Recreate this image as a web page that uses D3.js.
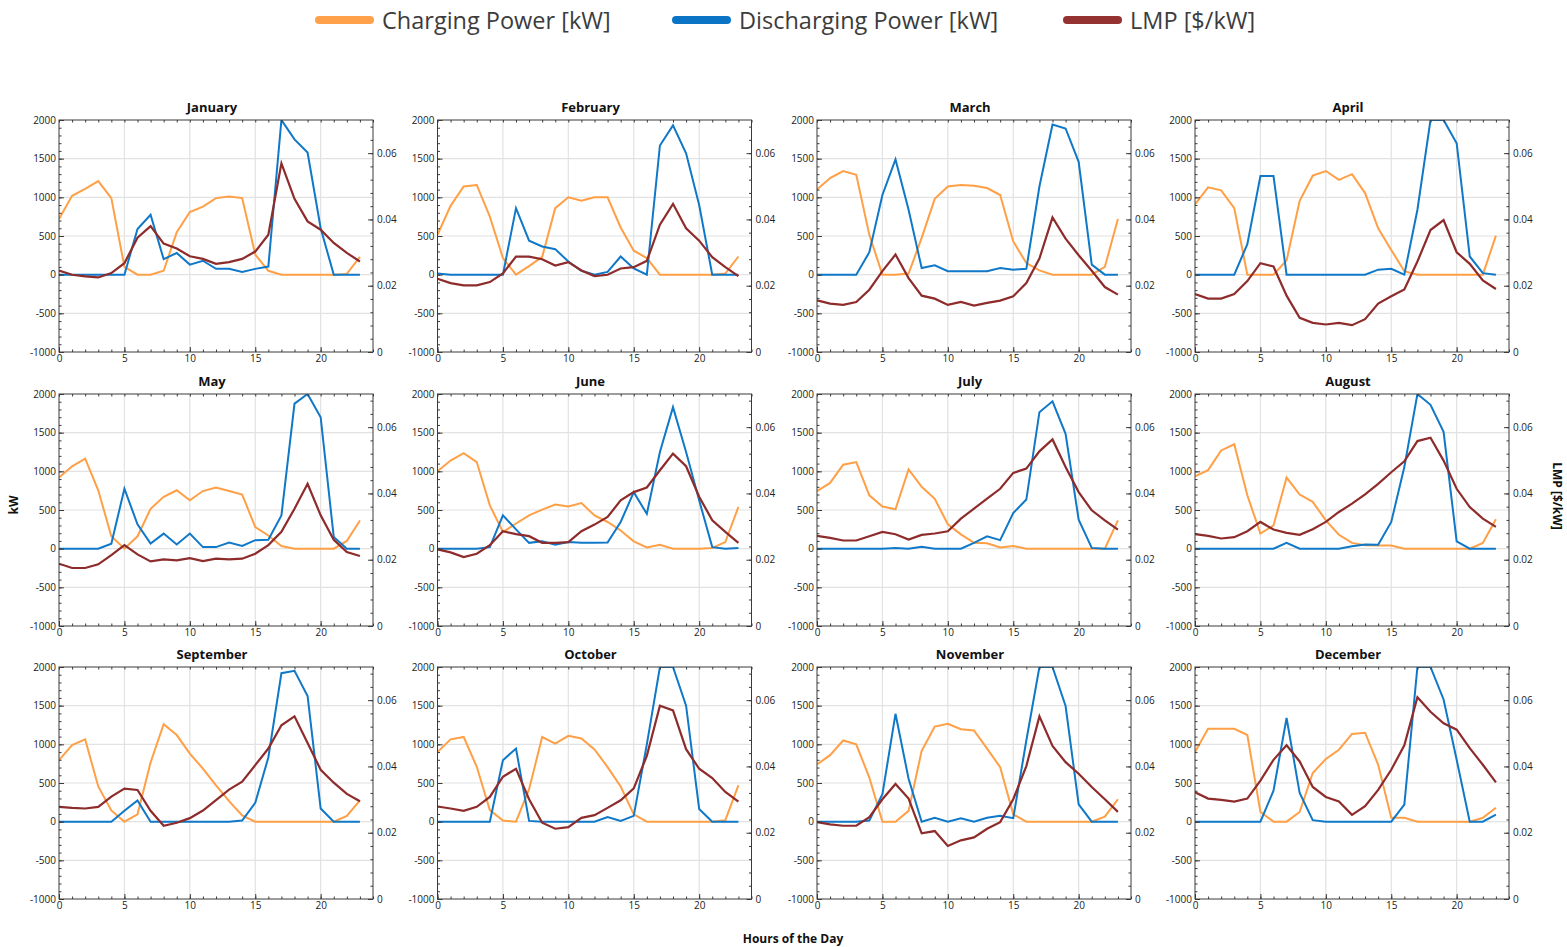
<!DOCTYPE html>
<html><head><meta charset="utf-8">
<script src="https://cdn.jsdelivr.net/npm/d3@7"></script>
<style>
body{margin:0;background:#fff}
svg{display:block}
text{font-family:"Open Sans","Noto Sans",sans-serif}
</style>
</head><body>
<svg id="chart" width="1567" height="947"></svg>
<script>
const months = ["January","February","March","April","May","June","July","August","September","October","November","December"];
const hours = [0,1,2,3,4,5,6,7,8,9,10,11,12,13,14,15,16,17,18,19,20,21,22,23];
const seriesNames = ["Charging Power [kW]","Discharging Power [kW]","LMP [$/kW]"];
const leftTicks = [-1000,-500,0,500,1000,1500,2000];
const rightTicks = [0,0.02,0.04,0.06];
const xTicks = [0,5,10,15,20];

const chargingPower = [
 [720,1020,1110,1210,990,100,0,0,50,550,810,880,990,1010,990,260,50,0,0,0,0,0,10,230],
 [515,890,1140,1160,750,215,0,110,230,860,1000,955,1000,1000,610,310,215,0,0,0,0,0,15,235],
 [1100,1250,1340,1290,515,0,0,15,475,980,1140,1160,1150,1120,1030,430,150,55,0,0,0,0,100,720],
 [910,1130,1090,860,0,0,0,185,955,1280,1340,1225,1300,1055,600,320,45,0,0,0,0,0,0,505],
 [920,1065,1165,755,160,0,160,515,670,755,625,745,790,745,700,280,170,35,0,0,0,0,100,365],
 [1000,1140,1235,1120,560,215,325,430,505,570,545,590,430,345,235,95,15,50,0,0,0,10,85,540],
 [745,850,1085,1120,690,545,510,1025,800,645,315,185,75,70,15,35,0,0,0,0,0,0,0,365],
 [935,1015,1270,1350,690,195,300,920,700,605,365,180,75,45,40,40,0,0,0,0,0,0,75,380],
 [795,990,1065,455,145,0,95,765,1260,1120,880,685,470,265,80,0,0,0,0,0,0,0,75,275],
 [900,1065,1095,710,150,15,0,420,1095,1010,1110,1075,935,705,455,95,0,0,0,0,0,0,20,470],
 [740,860,1050,1000,570,0,0,140,915,1230,1265,1195,1180,945,705,95,0,0,0,0,0,0,65,290],
 [900,1200,1200,1200,1120,125,0,0,125,630,810,930,1135,1150,735,50,50,0,0,0,0,0,50,180]
];
const dischargingPower = [
 [0,0,0,0,0,0,590,775,200,280,130,180,75,75,35,75,105,2000,1750,1580,600,0,0,0],
 [15,0,0,0,0,0,860,440,365,330,170,50,0,35,235,80,0,1670,1930,1570,900,0,0,0],
 [0,0,0,0,290,1030,1490,840,85,120,45,45,45,45,85,65,75,1140,1940,1890,1460,130,0,0],
 [0,0,0,0,395,1275,1275,0,0,0,0,0,0,0,65,75,0,840,2000,2000,1700,235,20,0],
 [0,0,0,0,65,775,315,65,195,55,195,20,20,80,35,110,115,430,1875,2000,1700,150,0,0],
 [0,0,0,0,20,430,250,75,95,50,85,75,75,80,345,730,450,1250,1830,1250,625,20,0,10],
 [0,0,0,0,0,0,10,0,25,0,0,0,75,160,110,460,635,1765,1905,1485,375,10,0,0],
 [0,0,0,0,0,0,0,75,0,0,0,0,30,55,50,345,1055,2000,1860,1510,95,0,0,0],
 [0,0,0,0,0,140,275,0,0,0,0,0,0,0,15,245,830,1920,1950,1625,170,0,0,0],
 [0,0,0,0,0,795,945,10,0,0,0,0,0,60,10,75,1000,2000,2000,1500,165,0,0,0],
 [0,0,0,0,15,355,1395,555,0,50,0,45,0,50,75,45,1050,2000,2000,1495,225,0,0,0],
 [0,0,0,0,0,0,400,1340,370,20,0,0,0,0,0,0,220,2000,2000,1580,800,0,0,90]
];
const lmp = [
 [0.0246,0.0233,0.0228,0.0225,0.0238,0.0268,0.0345,0.0380,0.0327,0.0312,0.0289,0.0281,0.0266,0.0271,0.0281,0.0303,0.0354,0.0569,0.0462,0.0394,0.0369,0.0329,0.0299,0.0273],
 [0.0221,0.0208,0.0201,0.0201,0.0211,0.0237,0.0288,0.0288,0.0280,0.0261,0.0271,0.0246,0.0229,0.0233,0.0252,0.0256,0.0275,0.0384,0.0447,0.0373,0.0336,0.0286,0.0256,0.0229],
 [0.0156,0.0146,0.0142,0.0151,0.0188,0.0244,0.0294,0.0223,0.0170,0.0161,0.0142,0.0151,0.0140,0.0148,0.0155,0.0168,0.0208,0.0282,0.0406,0.0342,0.0292,0.0245,0.0196,0.0173],
 [0.0175,0.0161,0.0161,0.0175,0.0214,0.0268,0.0258,0.0170,0.0103,0.0088,0.0083,0.0088,0.0081,0.0099,0.0146,0.0168,0.0189,0.0273,0.0368,0.0398,0.0301,0.0266,0.0216,0.0190],
 [0.0188,0.0175,0.0175,0.0186,0.0214,0.0244,0.0216,0.0195,0.0201,0.0198,0.0205,0.0196,0.0203,0.0201,0.0203,0.0218,0.0244,0.0284,0.0354,0.0429,0.0334,0.0260,0.0223,0.0211],
 [0.0231,0.0222,0.0208,0.0218,0.0244,0.0286,0.0277,0.0271,0.0251,0.0251,0.0253,0.0286,0.0306,0.0329,0.0379,0.0404,0.0418,0.0470,0.0520,0.0482,0.0390,0.0319,0.0284,0.0251],
 [0.0272,0.0266,0.0258,0.0258,0.0271,0.0284,0.0277,0.0261,0.0275,0.0279,0.0286,0.0324,0.0354,0.0384,0.0414,0.0462,0.0475,0.0527,0.0563,0.0480,0.0404,0.0349,0.0319,0.0291],
 [0.0277,0.0272,0.0264,0.0268,0.0286,0.0314,0.0291,0.0281,0.0275,0.0292,0.0314,0.0344,0.0369,0.0397,0.0429,0.0464,0.0497,0.0558,0.0568,0.0499,0.0414,0.0359,0.0324,0.0299],
 [0.0278,0.0275,0.0273,0.0278,0.0309,0.0333,0.0329,0.0266,0.0221,0.0230,0.0244,0.0267,0.0298,0.0330,0.0354,0.0404,0.0454,0.0524,0.0551,0.0471,0.0390,0.0351,0.0317,0.0295],
 [0.0279,0.0273,0.0266,0.0278,0.0308,0.0369,0.0393,0.0301,0.0230,0.0212,0.0217,0.0245,0.0253,0.0275,0.0298,0.0334,0.0432,0.0583,0.0569,0.0452,0.0393,0.0365,0.0323,0.0294],
 [0.0232,0.0225,0.0221,0.0221,0.0247,0.0301,0.0347,0.0303,0.0198,0.0205,0.0160,0.0177,0.0186,0.0212,0.0232,0.0301,0.0401,0.0551,0.0462,0.0413,0.0378,0.0338,0.0301,0.0263],
 [0.0322,0.0303,0.0299,0.0294,0.0303,0.0357,0.0420,0.0464,0.0415,0.0338,0.0308,0.0294,0.0254,0.0280,0.0329,0.0390,0.0464,0.0609,0.0565,0.0530,0.0511,0.0455,0.0405,0.0352]
];

const colors = ["#ff9f46","#0f78c8","#8e2b2b"];
const legendColors = ["#ffa04b","#0b74c4","#943232"];

const svg = d3.select("#chart");
const W = 314, H = 232;
const colX = [59, 437.5, 817, 1195];
const rowY = [120, 394, 667];

const x = d3.scaleLinear().domain([0,24]).range([0,W]);
const yL = d3.scaleLinear().domain([-1000,2000]).range([H,0]);
const yR = d3.scaleLinear().domain([0,0.07]).range([H,0]);

const minorL = d3.range(-1000, 2001, 100);
const minorR = d3.range(0, 0.0701, 0.004);
const minorX = d3.range(0, 25, 1);
const plain = d => String(d);

months.forEach((m, i) => {
  const g = svg.append("g").attr("transform", `translate(${colX[i%4]},${rowY[Math.floor(i/4)]})`);
  // grid
  g.selectAll(".gx").data(xTicks.filter(d=>d>0)).join("line")
    .attr("x1", d=>x(d)).attr("x2", d=>x(d)).attr("y1",0).attr("y2",H)
    .attr("stroke","#e2e2e2").attr("stroke-width",1.2);
  g.selectAll(".gy").data(leftTicks.filter(d=>d>-1000 && d<2000)).join("line")
    .attr("y1", d=>yL(d)).attr("y2", d=>yL(d)).attr("x1",0).attr("x2",W)
    .attr("stroke","#e2e2e2").attr("stroke-width",1.2);

  const cid = "clip"+i;
  g.append("clipPath").attr("id",cid).append("rect").attr("x",0).attr("y",0).attr("width",W).attr("height",H);
  const lines = g.append("g").attr("clip-path",`url(#${cid})`);
  const lineL = d3.line().x((d,j)=>x(hours[j])).y(d=>yL(d));
  const lineR = d3.line().x((d,j)=>x(hours[j])).y(d=>yR(d));
  lines.append("path").datum(chargingPower[i]).attr("d",lineL)
    .attr("fill","none").attr("stroke",colors[0]).attr("stroke-width",2);
  lines.append("path").datum(dischargingPower[i]).attr("d",lineL)
    .attr("fill","none").attr("stroke",colors[1]).attr("stroke-width",2);
  lines.append("path").datum(lmp[i]).attr("d",lineR)
    .attr("fill","none").attr("stroke",colors[2]).attr("stroke-width",2.2);

  // frame
  g.append("rect").attr("x",0).attr("y",0).attr("width",W).attr("height",H)
    .attr("fill","none").attr("stroke","#3a3a3a").attr("stroke-width",1);

  const styleAxis = sel => {
    sel.select(".domain").remove();
    sel.selectAll(".tick line").attr("stroke","#3a3a3a");
    sel.selectAll("text").attr("fill","#222").style("font-size","10px").style("font-family","'Open Sans',sans-serif");
  };
  // left axis
  g.append("g").call(d3.axisLeft(yL).tickValues(leftTicks).tickSizeInner(-5).tickSizeOuter(0).tickPadding(3).tickFormat(plain)).call(styleAxis);
  g.append("g").call(d3.axisLeft(yL).tickValues(minorL).tickSizeInner(-2.5).tickSizeOuter(0).tickFormat("")).call(styleAxis);
  // right axis
  g.append("g").attr("transform",`translate(${W},0)`)
    .call(d3.axisRight(yR).tickValues(rightTicks).tickSizeInner(-5).tickSizeOuter(0).tickPadding(4).tickFormat(d=>d===0?"0":d3.format(".2f")(d))).call(styleAxis);
  g.append("g").attr("transform",`translate(${W},0)`)
    .call(d3.axisRight(yR).tickValues(minorR).tickSizeInner(-2.5).tickSizeOuter(0).tickFormat("")).call(styleAxis);
  // bottom axis
  g.append("g").attr("transform",`translate(0,${H})`)
    .call(d3.axisBottom(x).tickValues(xTicks).tickSizeInner(-5).tickSizeOuter(0).tickPadding(3).tickFormat(plain)).call(styleAxis);
  g.append("g").attr("transform",`translate(0,${H})`)
    .call(d3.axisBottom(x).tickValues(minorX).tickSizeInner(-2.5).tickSizeOuter(0).tickFormat("")).call(styleAxis);
  // top axis minor ticks
  g.append("g").call(d3.axisTop(x).tickValues(minorX).tickSizeInner(-2.5).tickSizeOuter(0).tickFormat("")).call(styleAxis);

  // title
  g.append("text").attr("x",W/2-4).attr("y",-8).attr("text-anchor","middle")
    .style("font-size","13px").style("font-weight","bold").attr("fill","#111").text(m);
});

// legend
const legendX = [315, 672, 1063];
seriesNames.forEach((s,k)=>{
  svg.append("line").attr("x1",legendX[k]+4).attr("x2",legendX[k]+55).attr("y1",20).attr("y2",20)
    .attr("stroke",legendColors[k]).attr("stroke-width",8).attr("stroke-linecap","round");
  svg.append("text").attr("x",legendX[k]+67).attr("y",28.5).style("font-size","23.5px")
    .attr("fill","#3c3c3c").text(s);
});

// axis titles
svg.append("text").attr("transform","translate(18,505) rotate(-90)").attr("text-anchor","middle")
  .style("font-size","12px").style("font-weight","bold").attr("fill","#111").text("kW");
svg.append("text").attr("transform","translate(1553,496) rotate(90)").attr("text-anchor","middle")
  .style("font-size","12px").style("font-weight","bold").attr("fill","#111").text("LMP [$/kW]");
svg.append("text").attr("x",793).attr("y",943).attr("text-anchor","middle")
  .style("font-size","12px").style("font-weight","bold").attr("fill","#111").text("Hours of the Day");
</script>
</body></html>
